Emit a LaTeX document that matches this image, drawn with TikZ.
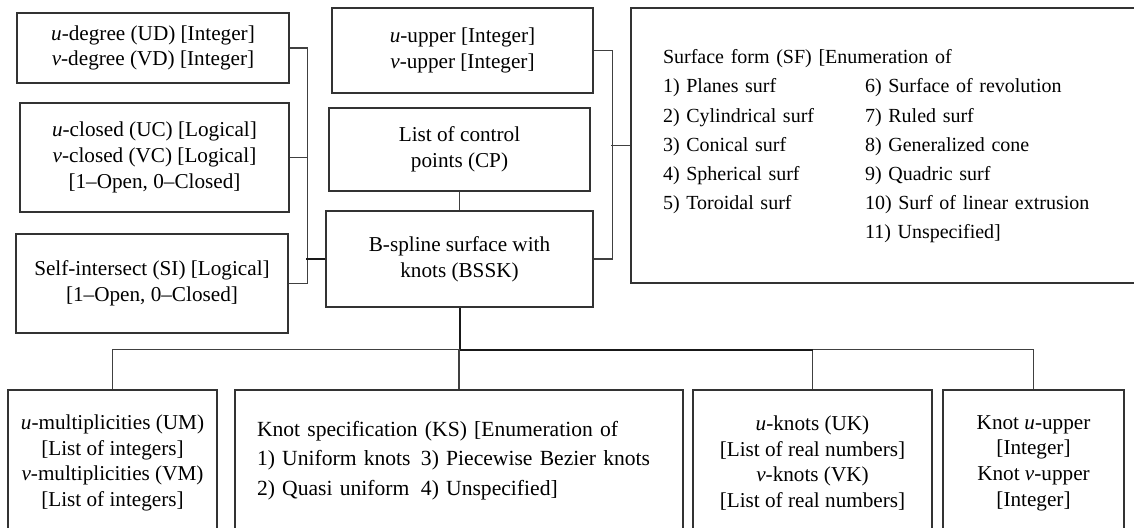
\documentclass[tikz,border=0pt]{standalone}
\usepackage{fontspec}
\setmainfont{Liberation Serif}
\usepackage{array}

\begin{document}
\begin{tikzpicture}[x=0.5pt,y=-0.5pt,
  font=\fontsize{10.6}{12.8}\selectfont,
  box/.style={draw=black!80,line width=0.6pt,align=center,inner sep=0pt},
  enumbox/.style={box,align=left,font=\fontsize{10.6}{14.6}\selectfont},
  link/.style={draw=black!75,line width=0.55pt},
  trunk/.style={draw=black!90,line width=1pt}]
  \useasboundingbox (0,0) rectangle (1134,528);
  \clip (0,0) rectangle (1134,528);
  % left column
  \node[box,minimum width=136pt,minimum height=35pt] (ud) at (153,48)
    {\textit{u}-degree (UD) [Integer]\\ \textit{v}-degree (VD) [Integer]};
  \node[box,minimum width=134.5pt,minimum height=54.5pt] (uc) at (154.5,157.5)
    {\textit{u}-closed (UC) [Logical]\\ \textit{v}-closed (VC) [Logical]\\ {[}1--Open, 0--Closed]};
  \node[box,minimum width=136pt,minimum height=49.5pt] (si) at (152,283.5)
    {Self-intersect (SI) [Logical]\\ {[}1--Open, 0--Closed]};
  % middle column
  \node[box,minimum width=130.5pt,minimum height=42.5pt] (uu) at (462.5,50.5)
    {\textit{u}-upper [Integer]\\ \textit{v}-upper [Integer]};
  \node[box,minimum width=130.5pt,minimum height=41.5pt] (cp) at (459.5,149.5)
    {List of control\\ points (CP)};
  \node[box,minimum width=133.5pt,minimum height=48pt] (bssk) at (459.5,259)
    {B-spline surface with\\ knots (BSSK)};
  % surface form
  \node[enumbox,font=\fontsize{10}{14.6}\selectfont,inner xsep=16pt,text width=225pt,
        minimum height=137.5pt] (sf) at (888,145.5)
    {\begin{tabular}{@{}p{101pt}@{}l@{}}
      \multicolumn{2}{@{}l@{}}{Surface form (SF) [Enumeration of}\\
      1) Planes surf & 6) Surface of revolution\\
      2) Cylindrical surf & 7) Ruled surf\\
      3) Conical surf & 8) Generalized cone\\
      4) Spherical surf & 9) Quadric surf\\
      5) Toroidal surf & 10) Surf of linear extrusion\\
      & 11) Unspecified]
    \end{tabular}};
  % bottom row
  \node[box,minimum width=104.5pt,minimum height=73pt] (um) at (112.5,463)
    {\textit{u}-multiplicities (UM)\\ {[}List of integers]\\ \textit{v}-multiplicities (VM)\\ {[}List of integers]};
  \node[enumbox,font=\fontsize{10.8}{15}\selectfont,inner xsep=11pt,text width=202pt,
        minimum height=70pt] (ks) at (459,460)
    {\begin{tabular}{@{}p{82pt}@{}l@{}}
      \multicolumn{2}{@{}l@{}}{Knot specification (KS) [Enumeration of}\\
      1) Uniform knots & 3) Piecewise Bezier knots\\
      2) Quasi uniform & 4) Unspecified]
    \end{tabular}};
  \node[box,minimum width=119.5pt,minimum height=73pt] (uk) at (812.5,463)
    {\textit{u}-knots (UK)\\ {[}List of real numbers]\\ \textit{v}-knots (VK)\\ {[}List of real numbers]};
  \node[box,minimum width=90.5pt,minimum height=73pt] (ku) at (1033.5,463)
    {Knot \textit{u}-upper\\ {[}Integer]\\ Knot \textit{v}-upper\\ {[}Integer]};

  \path[link] (ud.east) -- ++(18,0) |- (si.east)
              (uc.east) -- ++(18,0)
              (uu.east) -- ++(19,0) |- (bssk.east)
              (sf.west) -- ++(-19,0)
              (cp) -- (bssk);
  \path[trunk] (bssk.west) -- ++(-19,0);
  \path[trunk] (bssk.south) -- ++(0,42) coordinate (bus);
  \path[link] (um.north) |- (bus) -| (ku.north)
              (ks.north) -- (ks.north |- bus)
              (uk.north) -- (uk.north |- bus);
  \path[trunk] (bus) -- (uk.north |- bus);
\end{tikzpicture}
\end{document}
